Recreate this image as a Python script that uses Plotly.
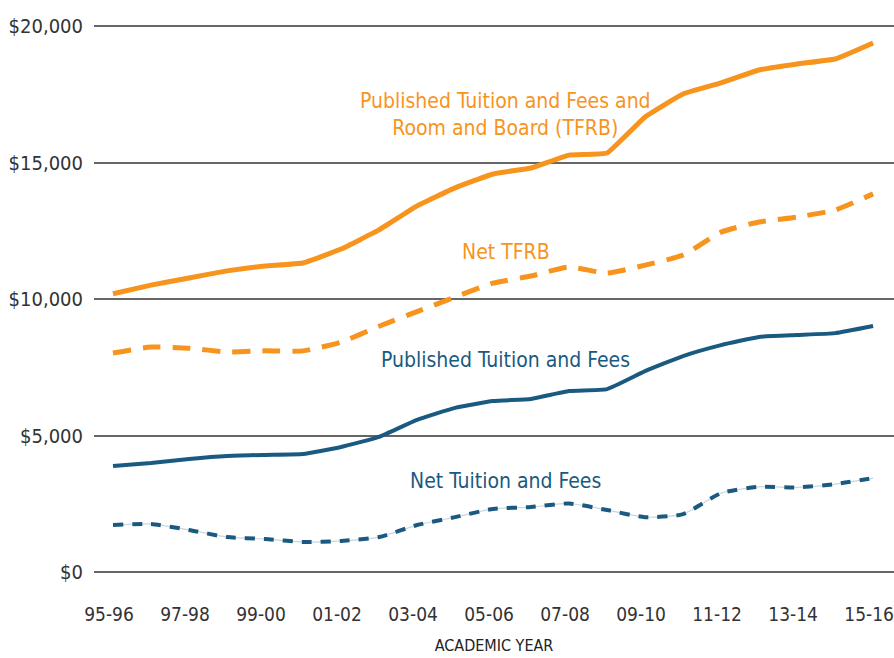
import plotly.graph_objects as go

years = ["95-96", "96-97", "97-98", "98-99", "99-00", "00-01", "01-02", "02-03", "03-04", "04-05",
         "05-06", "06-07", "07-08", "08-09", "09-10", "10-11", "11-12", "12-13", "13-14", "14-15", "15-16"]
tick_labels = ["95-96", "97-98", "99-00", "01-02", "03-04", "05-06", "07-08", "09-10", "11-12", "13-14", "15-16"]

published_tfrb = [10190, 10510, 10770, 11030, 11210, 11320, 11830, 12530, 13410, 14070,
                  14580, 14800, 15270, 15350, 16670, 17510, 17920, 18390, 18610, 18790, 19380]
net_tfrb = [8020, 8240, 8200, 8060, 8100, 8100, 8420, 9000, 9540, 10070,
            10580, 10840, 11170, 10950, 11240, 11610, 12450, 12820, 13000, 13260, 13850]
published_tf = [3880, 3990, 4140, 4250, 4290, 4320, 4580, 4950, 5570, 6010,
                6260, 6340, 6630, 6700, 7360, 7910, 8310, 8610, 8680, 8750, 9010]
net_tf = [1720, 1760, 1540, 1280, 1210, 1100, 1140, 1280, 1720, 2010,
          2310, 2380, 2510, 2270, 2010, 2120, 2890, 3120, 3100, 3220, 3440]

ORANGE = "#F7941E"
BLUE = "#1A5A80"
FONT = "DejaVu Sans Condensed, Roboto, sans-serif"

x = list(range(len(years)))
fig = go.Figure()
fig.add_trace(go.Scatter(x=x, y=published_tfrb, mode="lines",
                         line=dict(color=ORANGE, width=5, shape="spline", smoothing=0.3)))
fig.add_trace(go.Scatter(x=x, y=net_tfrb, mode="lines",
                         line=dict(color=ORANGE, width=5, dash="18px,12px", shape="spline", smoothing=0.5)))
fig.add_trace(go.Scatter(x=x, y=published_tf, mode="lines",
                         line=dict(color=BLUE, width=4, shape="spline", smoothing=0.4)))
fig.add_trace(go.Scatter(x=x, y=net_tf, mode="lines",
                         line=dict(color="#C9D6DE", width=1.2, shape="spline", smoothing=0.6)))
fig.add_trace(go.Scatter(x=x, y=net_tf, mode="lines",
                         line=dict(color=BLUE, width=4, dash="10px,9px", shape="spline", smoothing=0.6)))

tick_vals = [years.index(t) for t in tick_labels]

fig.update_layout(
    width=894, height=658,
    margin=dict(l=94, r=0, t=16, b=76, autoexpand=False),
    paper_bgcolor="white", plot_bgcolor="white",
    showlegend=False,
    font=dict(family=FONT, color="#333333"),
    xaxis=dict(range=[-0.5, 20.55], tickmode="array", tickvals=tick_vals, ticktext=tick_labels,
               showgrid=False, zeroline=False, showline=False, ticks="", automargin=False,
               ticklabelstandoff=19, ticklabeloverflow="allow", ticklabelshift=-4,
               tickfont=dict(size=19, color="#333333", family=FONT),
               title=dict(text="ACADEMIC YEAR", font=dict(size=16, color="#222222", family=FONT), standoff=15)),
    yaxis=dict(range=[-366, 20366], tickvals=[0, 5000, 10000, 15000, 20000],
               ticktext=["$0", "$5,000", "$10,000", "$15,000", "$20,000"],
               showgrid=True, gridcolor="#666666", gridwidth=1.5, zeroline=False, showline=False,
               ticks="", ticklabelstandoff=10, automargin=False,
               tickfont=dict(size=20, color="#333333", family=FONT)),
)

annots = [
    dict(x=10.34, y=16760, text="Published Tuition and Fees and<br>Room and Board (TFRB)", color=ORANGE),
    dict(x=10.34, y=11720, text="Net TFRB", color=ORANGE),
    dict(x=10.34, y=7770, text="Published Tuition and Fees", color=BLUE),
    dict(x=10.34, y=3330, text="Net Tuition and Fees", color=BLUE),
]
for a in annots:
    fig.add_annotation(x=a["x"], y=a["y"], xref="x", yref="y", text=a["text"], showarrow=False,
                       xanchor="center", yanchor="middle", align="center",
                       font=dict(size=21, color=a["color"], family=FONT))

fig.write_html("out.html", config={"displayModeBar": False},
               post_script="document.body.style.margin='0px';")
